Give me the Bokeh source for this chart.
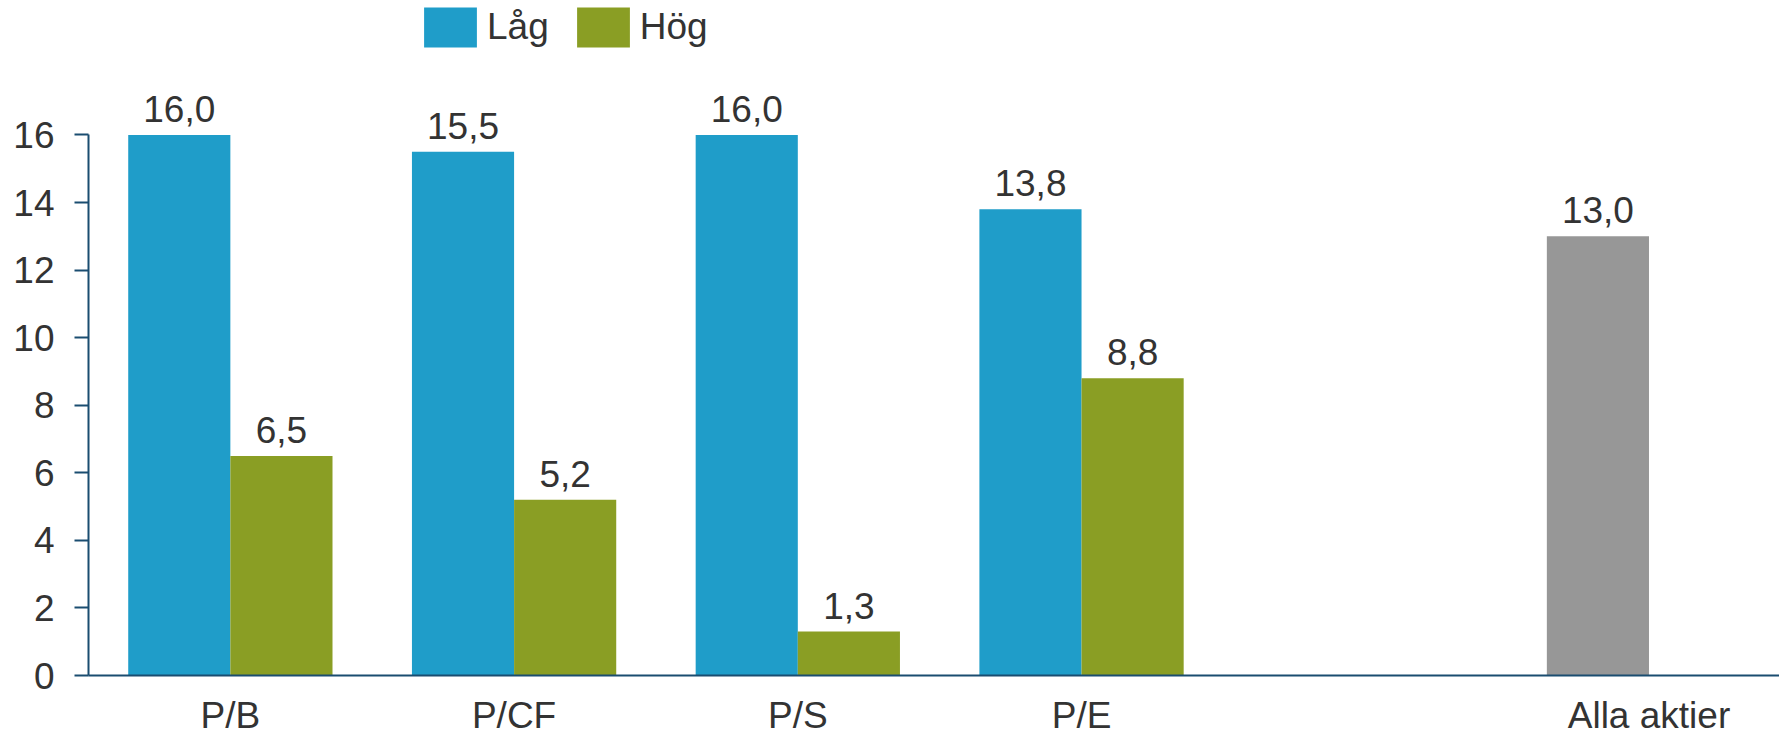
from bokeh.plotting import figure
from bokeh.models import ColumnDataSource, Range1d, FixedTicker, Legend, LegendItem
from bokeh.core.properties import value
from bokeh.embed import file_html
from bokeh.resources import INLINE

# ---- data ----
categories = ["P/B", "P/CF", "P/S", "P/E", "", "Alla aktier"]
metric_cats = ["P/B", "P/CF", "P/S", "P/E"]
lag_values = [16.0, 15.5, 16.0, 13.8]
hog_values = [6.5, 5.2, 1.3, 8.8]
all_cats = ["Alla aktier"]
all_values = [13.0]
y_ticks = [0, 2, 4, 6, 8, 10, 12, 14, 16]
series_names = ["Låg", "Hög"]

BLUE = "#1F9DC9"
GREEN = "#8A9E24"
GRAY = "#979797"
AXIS = "#1A4D70"
TEXT = "#333333"
FONT = "Liberation Sans"
FS = "37px"

W = 0.36  # bar width as a fraction of a category slot
pos = {c: i + 0.5 for i, c in enumerate(categories)}  # category centres on the axis


def fmt(v):
    return f"{v:.1f}".replace(".", ",")


def source(cats, vals, off):
    return ColumnDataSource(dict(x=[pos[c] + off for c in cats], val=vals,
                                 lbl=[fmt(v) for v in vals]))


src_lag = source(metric_cats, lag_values, -W / 2)
src_hog = source(metric_cats, hog_values, W / 2)
src_all = source(all_cats, all_values, -W / 2)

p = figure(width=1779, height=738, output_backend="svg", toolbar_location=None,
           x_range=Range1d(0, 5.96), y_range=Range1d(0, 19.98),
           min_border_left=88, min_border_right=0, min_border_top=0, min_border_bottom=61)
p.outline_line_color = None
p.grid.grid_line_color = None
p.background_fill_color = "white"
p.border_fill_color = "white"

r_lag = p.vbar(x="x", top="val", width=W, source=src_lag, fill_color=BLUE, line_color=None)
r_hog = p.vbar(x="x", top="val", width=W, source=src_hog, fill_color=GREEN, line_color=None)
r_all = p.vbar(x="x", top="val", width=W, source=src_all, fill_color=GRAY, line_color=None)

for src in (src_lag, src_hog, src_all):
    p.text(x="x", y="val", text="lbl", source=src,
           text_align="center", text_baseline="alphabetic", y_offset=-26,
           text_font=value(FONT), text_font_size=FS, text_color=TEXT)

# y axis
ya = p.yaxis[0]
ya.ticker = FixedTicker(ticks=y_ticks)
ya.bounds = (0, 16)
ya.axis_line_color = AXIS
ya.axis_line_width = 2
ya.major_tick_line_color = AXIS
ya.major_tick_line_width = 2
ya.major_tick_out = 14
ya.major_tick_in = 0
ya.minor_tick_line_color = None
ya.major_label_standoff = 20
ya.major_label_text_font = FONT
ya.major_label_text_font_size = FS
ya.major_label_text_color = TEXT

# x axis (category labels at slot centres)
xa = p.xaxis[0]
label_cats = [c for c in categories if c]
xa.ticker = FixedTicker(ticks=[pos[c] for c in label_cats])
xa.major_label_overrides = {pos[c]: c for c in label_cats}
xa.axis_line_color = AXIS
xa.axis_line_width = 2
xa.major_tick_line_color = None
xa.minor_tick_line_color = None
xa.major_tick_out = 0
xa.major_tick_in = 0
xa.major_label_standoff = 19
xa.major_label_text_font = FONT
xa.major_label_text_font_size = FS
xa.major_label_text_color = TEXT

legend = Legend(items=[LegendItem(label=series_names[0], renderers=[r_lag]),
                       LegendItem(label=series_names[1], renderers=[r_hog])],
                location=(329, 623), orientation="horizontal",
                glyph_width=66, glyph_height=50, label_standoff=4, spacing=21,
                padding=0, margin=0, border_line_color=None, background_fill_alpha=0,
                label_text_font=FONT, label_text_font_size=FS, label_text_color=TEXT)
p.add_layout(legend, "center")

open("out.html", "w").write(file_html(p, INLINE))
